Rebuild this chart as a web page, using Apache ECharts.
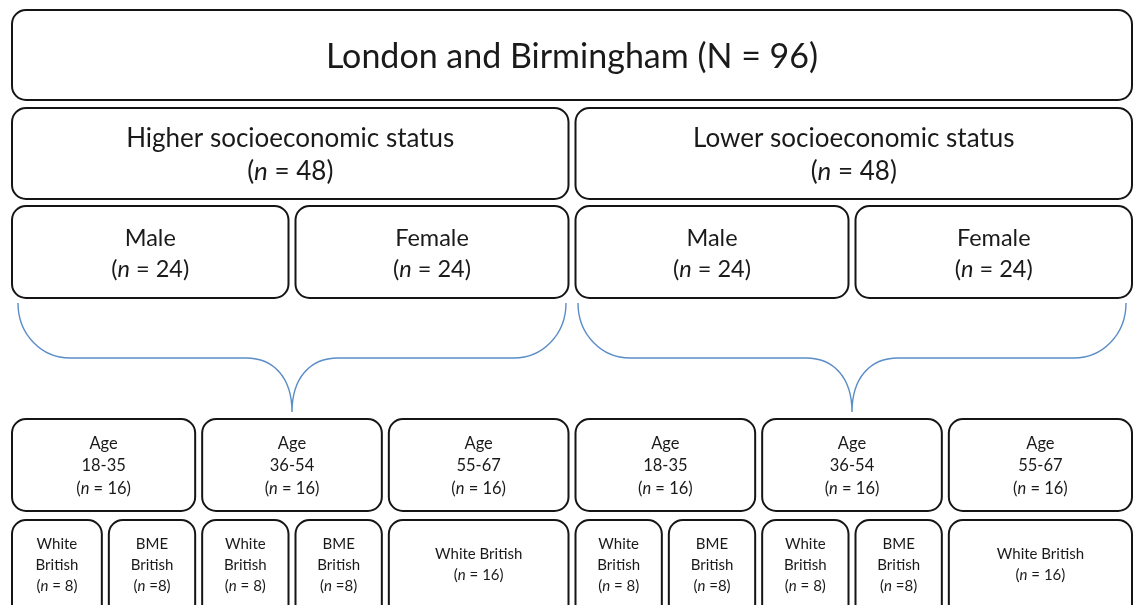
<!DOCTYPE html>
<html>
<head>
<meta charset="utf-8">
<script src="https://cdn.jsdelivr.net/npm/echarts@6/dist/echarts.min.js"></script>
<style>
  html, body { margin: 0; padding: 0; background: #fff; }
  #chart { width: 1134px; height: 605px; }
</style>
</head>
<body>
<div id="chart"></div>
<script>
// sample tree: every level splits its parent's n
const totalLabel = 'London and Birmingham';
const totalN = 96;
const sesLabels = ['Higher socioeconomic status', 'Lower socioeconomic status'];
const sesN = [48, 48];
const genderLabels = ['Male', 'Female'];
const genderN = [24, 24];
const ageLabels = ['18-35', '36-54', '55-67'];
const ageN = [16, 16, 16];
const ethnicLabels = [['White\nBritish', 'BME\nBritish'], ['White\nBritish', 'BME\nBritish'], ['White British']];
const ethnicN = [[8, 8], [8, 8], [16]];
const ethnicEq = [[' = ', ' ='], [' = ', ' ='], [' = ']];

// layout per row (top, bottom, text centre, font size, line height)
const rowTop = [10, 108, 206, 419, 520];
const rowBottom = [100, 199, 298, 511, 625];
const rowTextY = [57, 155, 254, 466, 565];
const rowFont = [34, 26, 23.5, 16.5, 15];
const rowLine = [40, 33, 31, 22.5, 21];
const FONT = 'Lato, "Open Sans", sans-serif';

function nText(n, eq) {
    return '({i|n}' + (eq || ' = ') + n + ')';
}

// build nodes from the tree
let nodes = [];
nodes.push({ x0: 0, x1: totalN, row: 0, lines: [totalLabel + ' (N = ' + totalN + ')'] });
let sx = 0;
sesLabels.forEach((s, si) => {
    nodes.push({ x0: sx, x1: sx + sesN[si], row: 1, lines: [s, nText(sesN[si])] });
    let gx = sx;
    genderLabels.forEach((g, gi) => {
        nodes.push({ x0: gx, x1: gx + genderN[gi], row: 2, lines: [g, nText(genderN[gi])] });
        gx += genderN[gi];
    });
    let ax = sx;
    ageLabels.forEach((a, ai) => {
        nodes.push({ x0: ax, x1: ax + ageN[ai], row: 3, lines: ['Age', a, nText(ageN[ai])] });
        let ex = ax;
        ethnicLabels[ai].forEach((e, ei) => {
            let lines = e.split('\n');
            lines.push(nText(ethnicN[ai][ei], ethnicEq[ai][ei]));
            nodes.push({ x0: ex, x1: ex + ethnicN[ai][ei], row: 4, lines: lines });
            ex += ethnicN[ai][ei];
        });
        ax += ageN[ai];
    });
    sx += sesN[si];
});

// one brace under each SES group
let braces = [];
let bx = 0;
sesN.forEach(n => { braces.push([bx, bx + n]); bx += n; });

var myChart = echarts.init(document.getElementById('chart'));

function renderBox(params, api) {
    let node = nodes[params.dataIndex];
    let x0 = api.value(0), x1 = api.value(1), row = api.value(2);
    let left = api.coord([x0, 0])[0] + (x0 > 0 ? 3.5 : 0);
    let right = api.coord([x1, 0])[0] - (x1 < totalN ? 3.5 : 0);
    let top = api.coord([0, rowTop[row]])[1];
    let bottom = api.coord([0, rowBottom[row]])[1];
    let fs = rowFont[row];
    return {
        type: 'group',
        children: [
            {
                type: 'rect',
                shape: { x: left, y: top, width: right - left, height: bottom - top, r: 14 },
                style: { fill: '#fff', stroke: '#151515', lineWidth: 2 }
            },
            {
                type: 'text',
                x: (left + right) / 2,
                y: api.coord([0, rowTextY[row]])[1],
                style: {
                    text: node.lines.join('\n'),
                    fontSize: fs,
                    fontFamily: FONT,
                    lineHeight: rowLine[row],
                    fill: '#1a1a1a',
                    align: 'center',
                    verticalAlign: 'middle',
                    rich: {
                        i: { fontSize: fs, fontFamily: FONT, fontStyle: 'italic', fill: '#1a1a1a', lineHeight: rowLine[row] }
                    }
                }
            }
        ]
    };
}

function renderBrace(params, api) {
    let xs = api.coord([api.value(0), 0])[0] + 6;
    let xe = api.coord([api.value(1), 0])[0] - 6;
    let xm = (xs + xe) / 2;
    let yt = api.coord([0, 303])[1];
    let yh = api.coord([0, 358])[1];
    let yp = api.coord([0, 412])[1];
    let d = 'M' + xs + ' ' + yt +
        ' C' + xs + ' ' + (yt + 32) + ' ' + (xs + 24) + ' ' + yh + ' ' + (xs + 52) + ' ' + yh +
        ' L' + (xm - 46) + ' ' + yh +
        ' C' + (xm - 18) + ' ' + yh + ' ' + xm + ' ' + (yh + 20) + ' ' + xm + ' ' + yp +
        ' M' + xm + ' ' + yp +
        ' C' + xm + ' ' + (yh + 20) + ' ' + (xm + 18) + ' ' + yh + ' ' + (xm + 46) + ' ' + yh +
        ' L' + (xe - 52) + ' ' + yh +
        ' C' + (xe - 24) + ' ' + yh + ' ' + xe + ' ' + (yt + 32) + ' ' + xe + ' ' + yt;
    return {
        type: 'path',
        shape: { pathData: d },
        style: { fill: 'none', stroke: '#5b8dc8', lineWidth: 1.4 }
    };
}

var option = {
    animation: false,
    grid: { left: 12, right: 2, top: 0, bottom: 0 },
    xAxis: { type: 'value', min: 0, max: totalN, show: false },
    yAxis: { type: 'value', min: 0, max: 605, inverse: true, show: false },
    series: [
        {
            type: 'custom',
            renderItem: renderBrace,
            data: braces,
            clip: false
        },
        {
            type: 'custom',
            renderItem: renderBox,
            data: nodes.map(n => [n.x0, n.x1, n.row]),
            clip: false
        }
    ]
};

option && myChart.setOption(option);
</script>
</body>
</html>
